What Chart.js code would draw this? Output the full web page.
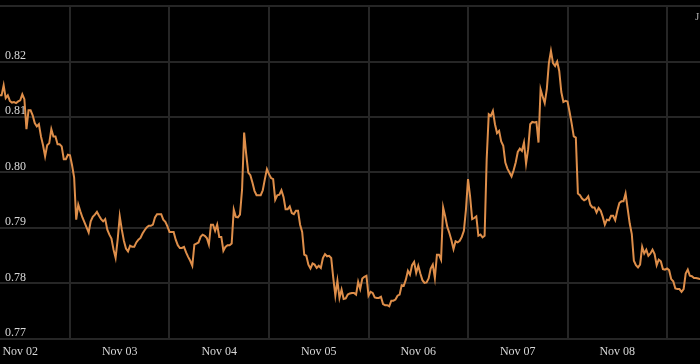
<!DOCTYPE html>
<html>
<head>
<meta charset="utf-8">
<script src="https://cdn.jsdelivr.net/npm/chart.js@4"></script>
<style>
  html, body { margin: 0; padding: 0; background: #000; }
  #wrap { width: 700px; height: 364px; position: relative; }
</style>
</head>
<body>
<div id="wrap"><canvas id="rateChart"></canvas></div>
<script>
// half-hourly samples, first one at Nov 01 19:00 (hours are relative to Nov 02 00:00)
const startHour = -5;
const stepHours = 0.5;

const dayLabels = ["Nov 02", "Nov 03", "Nov 04", "Nov 05", "Nov 06", "Nov 07", "Nov 08"];
const yTicks = [0.77, 0.78, 0.79, 0.80, 0.81, 0.82, 0.83];

const rate = [
    0.8139, 0.8139, 0.8157, 0.8134, 0.8139, 0.8129, 0.8126, 0.8127, 0.8125, 0.8128,
    0.8130, 0.8141, 0.8132, 0.8078, 0.8112, 0.8112, 0.8103, 0.8089, 0.8083, 0.8087,
    0.8065, 0.8049, 0.8029, 0.8049, 0.8053, 0.8078, 0.8065, 0.8065, 0.8051, 0.8051,
    0.8047, 0.8024, 0.8024, 0.8032, 0.8031, 0.8013, 0.7991, 0.7915, 0.7942, 0.7930,
    0.7919, 0.7910, 0.7901, 0.7892, 0.7912, 0.7920, 0.7924, 0.7929, 0.7922, 0.7916,
    0.7912, 0.7916, 0.7897, 0.7888, 0.7881, 0.7861, 0.7846, 0.7879, 0.7921, 0.7897,
    0.7877, 0.7863, 0.7858, 0.7868, 0.7866, 0.7866, 0.7874, 0.7879, 0.7882, 0.7890,
    0.7896, 0.7901, 0.7904, 0.7904, 0.7906, 0.7919, 0.7925, 0.7925, 0.7925, 0.7915,
    0.7911, 0.7903, 0.7893, 0.7893, 0.7893, 0.7879, 0.7869, 0.7864, 0.7864, 0.7866,
    0.7856, 0.7848, 0.7841, 0.7832, 0.7870, 0.7872, 0.7874, 0.7884, 0.7888, 0.7886,
    0.7882, 0.7870, 0.7906, 0.7906, 0.7895, 0.7906, 0.7884, 0.7884, 0.7859, 0.7866,
    0.7869, 0.7869, 0.7872, 0.7933, 0.7920, 0.7919, 0.7924, 0.7969, 0.8072, 0.8033,
    0.8000, 0.7995, 0.7982, 0.7967, 0.7959, 0.7959, 0.7959, 0.7968, 0.7988, 0.8006,
    0.7997, 0.7990, 0.7988, 0.7951, 0.7959, 0.7960, 0.7968, 0.7956, 0.7934, 0.7934,
    0.7939, 0.7927, 0.7925, 0.7931, 0.7931, 0.7906, 0.7893, 0.7852, 0.7850, 0.7834,
    0.7827, 0.7836, 0.7834, 0.7828, 0.7832, 0.7828, 0.7846, 0.7853, 0.7849, 0.7850,
    0.7846, 0.7810, 0.7778, 0.7805, 0.7774, 0.7789, 0.7772, 0.7773, 0.7780, 0.7782,
    0.7783, 0.7783, 0.7780, 0.7803, 0.7790, 0.7809, 0.7812, 0.7814, 0.7778, 0.7785,
    0.7783, 0.7775, 0.7774, 0.7774, 0.7776, 0.7763, 0.7761, 0.7761, 0.7759, 0.7769,
    0.7769, 0.7771, 0.7778, 0.7780, 0.7797, 0.7796, 0.7807, 0.7823, 0.7816, 0.7833,
    0.7839, 0.7819, 0.7832, 0.7818, 0.7806, 0.7801, 0.7802, 0.7809, 0.7827, 0.7834,
    0.7810, 0.7852, 0.7852, 0.7843, 0.7937, 0.7921, 0.7902, 0.7891, 0.7878, 0.7862,
    0.7876, 0.7874, 0.7877, 0.7884, 0.7895, 0.7933, 0.7988, 0.7957, 0.7916, 0.7918,
    0.7921, 0.7886, 0.7888, 0.7883, 0.7886, 0.8024, 0.8105, 0.8102, 0.8111, 0.8087,
    0.8071, 0.8075, 0.8056, 0.8048, 0.8018, 0.8007, 0.8000, 0.7993, 0.8004, 0.8018,
    0.8037, 0.8043, 0.8039, 0.8054, 0.8016, 0.8042, 0.8087, 0.8091, 0.8090, 0.8091,
    0.8054, 0.8150, 0.8137, 0.8125, 0.8150, 0.8197, 0.8219, 0.8197, 0.8192, 0.8200,
    0.8183, 0.8145, 0.8127, 0.8129, 0.8128, 0.8109, 0.8088, 0.8065, 0.8063, 0.7962,
    0.7959, 0.7953, 0.7950, 0.7952, 0.7957, 0.7942, 0.7937, 0.7937, 0.7928, 0.7936,
    0.7931, 0.7920, 0.7906, 0.7915, 0.7914, 0.7922, 0.7922, 0.7914, 0.7931, 0.7945,
    0.7948, 0.7948, 0.7962, 0.7935, 0.7908, 0.7889, 0.7841, 0.7833, 0.7829, 0.7834,
    0.7866, 0.7854, 0.7861, 0.7850, 0.7854, 0.7861, 0.7853, 0.7833, 0.7843, 0.7840,
    0.7826, 0.7825, 0.7827, 0.7824, 0.7808, 0.7804, 0.7791, 0.7790, 0.7790, 0.7785,
    0.7790, 0.7818, 0.7825, 0.7814, 0.7813, 0.7810, 0.7810, 0.7809, 0.7808
];

const points = rate.map((v, i) => ({ x: startHour + i * stepHours, y: v }));

const labelFont = { family: "'Liberation Serif', 'Times New Roman', serif", size: 12 };
const gridColor = "#262626";

// the little cut-off "J" in the top right corner
const cornerText = {
    id: "cornerText",
    afterDraw(chart) {
        const ctx = chart.ctx;
        ctx.save();
        ctx.font = "11px 'Liberation Serif', serif";
        ctx.fillStyle = "#aaaaaa";
        ctx.textAlign = "left";
        ctx.textBaseline = "alphabetic";
        ctx.fillText("J", 695, 20);
        ctx.restore();
    }
};

new Chart(document.getElementById("rateChart"), {
    type: "line",
    data: {
        datasets: [{
            data: points,
            borderColor: "#de8e4a",
            borderWidth: 2,
            tension: 0,
            pointRadius: 0
        }]
    },
    options: {
        responsive: true,
        maintainAspectRatio: false,
        animation: false,
        layout: { padding: { top: 6, bottom: 5, left: 0, right: 0 } },
        plugins: {
            legend: { display: false },
            tooltip: { enabled: false }
        },
        scales: {
            x: {
                type: "linear",
                min: -4.88,
                max: 163.95,
                afterBuildTicks: s => {
                    s.ticks = dayLabels.map((_, d) => ({ value: d * 24 }));
                },
                afterFit: s => { s.height = 20; s.paddingLeft = 0; s.paddingRight = 0; },
                ticks: {
                    autoSkip: false,
                    maxRotation: 0,
                    padding: 6,
                    color: "#d8d8d8",
                    font: labelFont,
                    callback: (v, i) => dayLabels[i]
                },
                grid: { offset: true, color: gridColor, lineWidth: 2, drawTicks: false },
                border: { display: false }
            },
            y: {
                min: yTicks[0],
                max: yTicks[yTicks.length - 1],
                afterBuildTicks: s => {
                    s.ticks = yTicks.map(v => ({ value: v }));
                },
                afterFit: s => { s.width = 0; s.paddingTop = 0; s.paddingBottom = 0; },
                ticks: {
                    mirror: true,
                    padding: 5,
                    labelOffset: -6,
                    color: "#d8d8d8",
                    font: labelFont,
                    callback: v => (v >= 0.8299 ? "" : v.toFixed(2))
                },
                grid: { color: gridColor, lineWidth: 2, drawTicks: false },
                border: { display: false }
            }
        }
    },
    plugins: [cornerText]
});
</script>
</body>
</html>
